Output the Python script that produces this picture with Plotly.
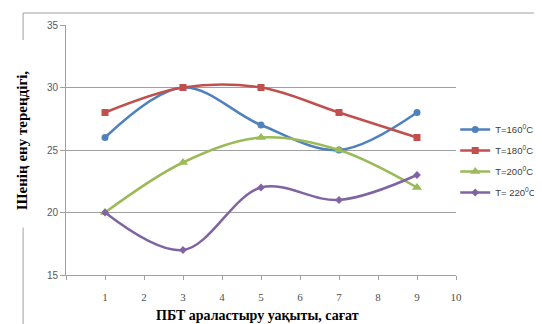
import plotly.graph_objects as go

x_hours = [1, 3, 5, 7, 9]
t160 = [26, 30, 27, 25, 28]
t180 = [28, 30, 30, 28, 26]
t200 = [20, 24, 26, 25, 22]
t220 = [20, 17, 22, 21, 23]
series_names = ["T=160<sup>0</sup>C", "T=180<sup>0</sup>C", "T=200<sup>0</sup>C", "T= 220<sup>0</sup>C"]
x_ticks = list(range(0, 11))
x_tick_labels = ["", "1", "2", "3", "4", "5", "6", "7", "8", "9", "10"]
y_ticks = [15, 20, 25, 30, 35]
y_title = "<b>Шенің ену тереңдігі,</b>"
x_title = "<b>ПБТ араластыру уақыты, сағат</b>"

colors = ["#4F81BD", "#C0504D", "#9BBB59", "#8064A2"]
symbols = ["circle", "square", "triangle-up", "diamond"]
sizes = [7, 7, 9, 6]

fig = go.Figure()
for i, (name, vals, c, s, sz) in enumerate(zip(series_names, [t160, t180, t200, t220], colors, symbols, sizes)):
    fig.add_trace(go.Scatter(
        x=x_hours, y=vals, name=name, mode="lines+markers", legendgroup=f"g{i}",
        line=dict(color=c, width=2.5, shape="spline", smoothing=1.0),
        marker=dict(color=c, symbol=s, size=sz),
    ))

fig.update_layout(
    width=534, height=316,
    margin=dict(l=58, r=86, t=17, b=49, autoexpand=False),
    paper_bgcolor="white", plot_bgcolor="white",
    showlegend=True,
    legend=dict(x=0.998, y=0.64, xanchor="left", yanchor="top",
                font=dict(family="Liberation Sans", size=9.5, color="#404040"),
                tracegroupgap=2, itemwidth=30, bgcolor="rgba(0,0,0,0)"),
    xaxis=dict(range=[0, 10], tickvals=x_ticks, ticktext=x_tick_labels, automargin=False,
               showgrid=False, zeroline=False, showline=True, linecolor="#A0A0A0", linewidth=1,
               ticks="outside", ticklen=4, tickcolor="#A0A0A0",
               ticklabelstandoff=8,
               tickfont=dict(family="Liberation Serif", size=11, color="#505050")),
    yaxis=dict(range=[15, 35], tickvals=y_ticks, automargin=False,
               showgrid=True, gridcolor="#A0A0A0", gridwidth=1, zeroline=False,
               showline=True, linecolor="#A0A0A0", linewidth=1,
               ticks="outside", ticklen=5, tickcolor="#A0A0A0",
               tickfont=dict(family="Liberation Sans", size=10, color="#595959")),
)

fig.add_annotation(text=y_title, xref="paper", yref="paper", x=-0.113, y=0.54,
                   textangle=-90, showarrow=False, xanchor="center", yanchor="middle",
                   font=dict(family="Liberation Serif", size=15, color="black"))
fig.add_annotation(text=x_title, xref="paper", yref="paper", x=0.49, y=-0.16,
                   showarrow=False, xanchor="center", yanchor="middle",
                   font=dict(family="Liberation Serif", size=14, color="black"))

# outer frame lines (chart border, partly hidden by y title)
fig.add_shape(type="line", xref="paper", yref="paper", x0=-0.11, x1=1.3, y0=1.048, y1=1.048,
              line=dict(color="#A0A0A0", width=1))
fig.add_shape(type="line", xref="paper", yref="paper", x0=-0.11, x1=-0.11, y0=1.048, y1=0.94,
              line=dict(color="#A0A0A0", width=1))
fig.add_shape(type="line", xref="paper", yref="paper", x0=-0.11, x1=-0.11, y0=0.19, y1=-0.2,
              line=dict(color="#A0A0A0", width=1))

fig.write_html("out.html")
